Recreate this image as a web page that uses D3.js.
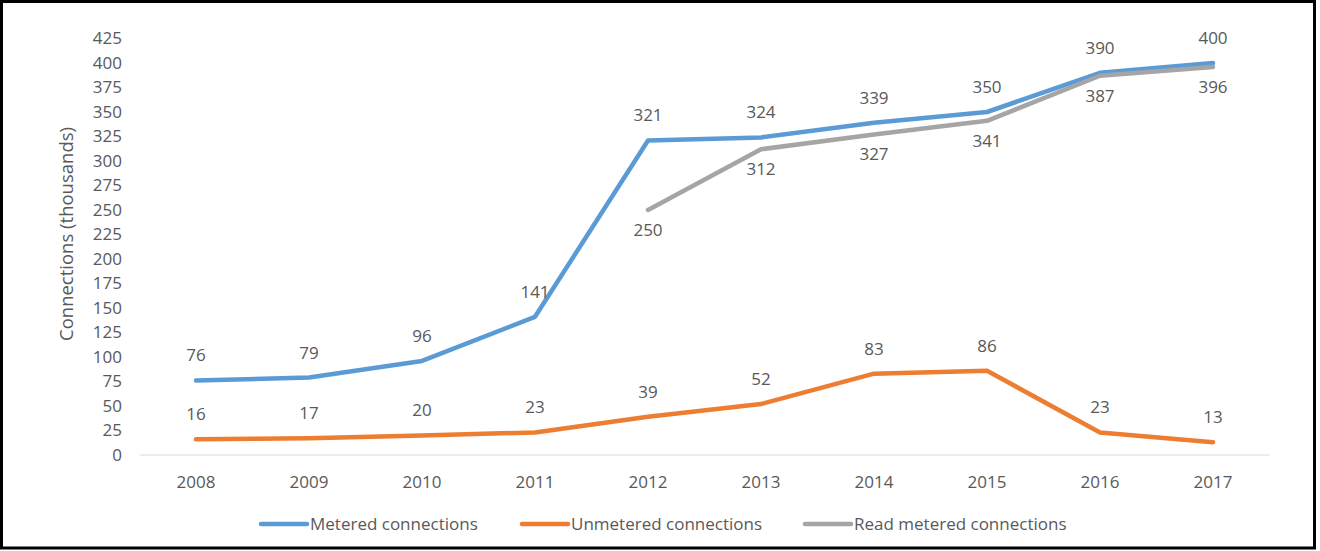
<!DOCTYPE html>
<html>
<head>
<meta charset="utf-8">
<script src="https://cdn.jsdelivr.net/npm/d3@7"></script>
<style>
  body { margin: 0; background: #fff; }
  svg text { font-family: "Open Sans", sans-serif; fill: #595959; }
</style>
</head>
<body>
<svg id="chart" width="1320" height="551"></svg>
<script>
// chart data
const years = ["2008", "2009", "2010", "2011", "2012", "2013", "2014", "2015", "2016", "2017"];
const metered = [76, 79, 96, 141, 321, 324, 339, 350, 390, 400];
const unmetered = [16, 17, 20, 23, 39, 52, 83, 86, 23, 13];
const readMetered = [null, null, null, null, 250, 312, 327, 341, 387, 396];
const yTicks = [0, 25, 50, 75, 100, 125, 150, 175, 200, 225, 250, 275, 300, 325, 350, 375, 400, 425];

const series = [
  { name: "Metered connections", values: metered, colour: "#5B9BD5", labelDy: -25 },
  { name: "Unmetered connections", values: unmetered, colour: "#ED7D31", labelDy: -25 },
  { name: "Read metered connections", values: readMetered, colour: "#A5A5A5", labelDy: 20 }
];

const svg = d3.select("#chart");

// outer frame
svg.append("rect")
  .attr("x", 1.5).attr("y", 1.5)
  .attr("width", 1313).attr("height", 546.5)
  .attr("fill", "none")
  .attr("stroke", "#000")
  .attr("stroke-width", 3);

const x = d3.scalePoint().domain(years).range([196, 1213]).padding(0);
const y = d3.scaleLinear().domain([0, 425]).range([455, 38.5]);

// x axis line (category width extends half a step each side)
const step = x.step();
svg.append("line")
  .attr("x1", x(years[0]) - step / 2)
  .attr("x2", x(years[years.length - 1]) + step / 2)
  .attr("y1", y(0)).attr("y2", y(0))
  .attr("stroke", "#D9D9D9")
  .attr("stroke-width", 1);

// y tick labels
svg.append("g")
  .selectAll("text")
  .data(yTicks)
  .join("text")
  .attr("x", 122)
  .attr("y", (d) => y(d))
  .attr("dy", "0.35em")
  .attr("text-anchor", "end")
  .attr("font-size", 17)
  .text((d) => d);

// x tick labels
svg.append("g")
  .selectAll("text")
  .data(years)
  .join("text")
  .attr("x", (d) => x(d))
  .attr("y", 482)
  .attr("dy", "0.35em")
  .attr("text-anchor", "middle")
  .attr("font-size", 17)
  .text((d) => d);

// y axis title
svg.append("text")
  .attr("transform", "translate(67,234) rotate(-90)")
  .attr("dy", "0.35em")
  .attr("text-anchor", "middle")
  .attr("font-size", 18.5)
  .text("Connections (thousands)");

const line = d3.line()
  .defined((d) => d != null)
  .x((d, i) => x(years[i]))
  .y((d) => y(d));

series.forEach((s) => {
  svg.append("path")
    .datum(s.values)
    .attr("d", line)
    .attr("fill", "none")
    .attr("stroke", s.colour)
    .attr("stroke-width", 4.5)
    .attr("stroke-linejoin", "round")
    .attr("stroke-linecap", "round");

  svg.append("g")
    .selectAll("text")
    .data(s.values.map((v, i) => ({ v, year: years[i] })).filter((d) => d.v != null))
    .join("text")
    .attr("x", (d) => x(d.year))
    .attr("y", (d) => y(d.v) + s.labelDy)
    .attr("dy", "0.35em")
    .attr("text-anchor", "middle")
    .attr("font-size", 17)
    .text((d) => d.v);
});

// legend
const legendX = [261, 522, 805];
const legend = svg.append("g");
series.forEach((s, i) => {
  legend.append("line")
    .attr("x1", legendX[i]).attr("x2", legendX[i] + 46)
    .attr("y1", 524).attr("y2", 524)
    .attr("stroke", s.colour)
    .attr("stroke-width", 4.5)
    .attr("stroke-linecap", "round");
  legend.append("text")
    .attr("x", legendX[i] + 49)
    .attr("y", 524)
    .attr("dy", "0.35em")
    .attr("font-size", 17)
    .text(s.name);
});
</script>
</body>
</html>
